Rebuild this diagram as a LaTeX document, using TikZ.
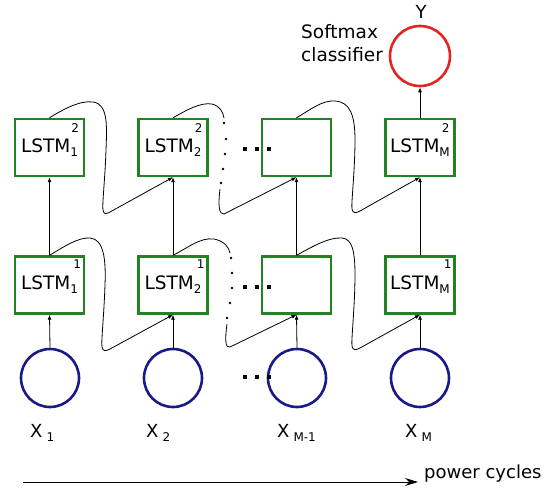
\documentclass[tikz,border=0pt]{standalone}
\usepackage{fontspec}
\setmainfont{DejaVu Sans}
\usetikzlibrary{arrows.meta,calc}
\definecolor{boxgreen}{RGB}{35,130,35}
\definecolor{cblue}{RGB}{25,25,135}
\definecolor{cred}{RGB}{230,35,35}
\newcommand\lsub[1]{\raisebox{-4pt}{\fontsize{12}{13}\selectfont #1}}
\begin{document}
\begin{tikzpicture}[x=1pt,y=-1pt,
  lstm/.style={draw=boxgreen, line width=2.4pt, minimum width=69pt, minimum height=57pt, inner sep=0pt, font=\fontsize{18.5}{21}\selectfont},
  sup/.style={inner sep=0pt, font=\fontsize{12}{13}\selectfont},
  incirc/.style={circle, draw=cblue, line width=2.6pt, minimum size=58pt, inner sep=0pt},
  outcirc/.style={circle, draw=cred, line width=2.6pt, minimum size=60pt, inner sep=0pt},
  flow/.style={line width=0.8pt, -{Latex[length=5pt,width=4pt]}},
  wave/.style={line width=0.8pt},
  lbl/.style={font=\fontsize{18}{21}\selectfont, inner sep=0pt},
  ]
\useasboundingbox (0,0) rectangle (550,493);

% LSTM boxes
\node[lstm] (b1) at (49.5,285) {LSTM\lsub{1}};
\node[lstm] (b2) at (173,285) {LSTM\lsub{2}};
\node[lstm] (b3) at (296.5,285) {};
\node[lstm] (bM) at (420,285) {LSTM\lsub{M}};
\node[lstm] (t1) at (49.5,147.5) {LSTM\lsub{1}};
\node[lstm] (t2) at (173,147.5) {LSTM\lsub{2}};
\node[lstm] (t3) at (296.5,147.5) {};
\node[lstm] (tM) at (420,147.5) {LSTM\lsub{M}};

% superscripts
\node[sup] (sb1) at ($(b1.north east)+(-8,9)$) {1};
\node[sup] (sb2) at ($(b2.north east)+(-8,9)$) {1};
\node[sup] (sbM) at ($(bM.north east)+(-8,9)$) {1};
\node[sup] (st1) at ($(t1.north east)+(-10,10)$) {2};
\node[sup] (st2) at ($(t2.north east)+(-10,10)$) {2};
\node[sup] (stM) at ($(tM.north east)+(-10,10)$) {2};

% input circles
\node[incirc] (x1) at (50,378) {};
\node[incirc] (x2) at (173,378) {};
\node[incirc] (x3) at (297,378) {};
\node[incirc] (xM) at (420,378) {};
\node[outcirc] (y) at (420,56) {};

% labels
\node[lbl, anchor=base west] (lx1) at (30,437) {X\hspace{4pt}\lsub{1}};
\node[lbl, anchor=base west] (lx2) at (146,437) {X\hspace{4pt}\lsub{2}};
\node[lbl, anchor=base west] (lx3) at (277,437) {X\hspace{4pt}\lsub{M-1}};
\node[lbl, anchor=base west] (lxM) at (405,437) {X\hspace{4pt}\lsub{M}};
\node[lbl] (ly) at (421,12) {Y};
\node[lbl, anchor=north west, align=left, font=\fontsize{18.5}{23}\selectfont] (soft) at (301,24) {Softmax\\classifier};
\node[lbl, anchor=base west] (pc) at (424,478) {power cycles};

% vertical arrows
\draw[flow] (x1.north) -- (b1.south);
\draw[flow] (x2.north) -- (b2.south);
\draw[flow] (x3.north) -- (b3.south);
\draw[flow] (xM.north) -- (bM.south);
\draw[flow] (b1.north) -- (t1.south);
\draw[flow] (b2.north) -- (t2.south);
\draw[flow] (b3.north) -- (t3.south);
\draw[flow] (bM.north) -- (tM.south);
\draw[flow] (tM.north) -- (y.south);

% recurrent connectors
\draw[wave, -{Latex[length=5pt,width=4pt]}] (t1.north)
  .. controls (62,110) and (80,100) .. (93,102)
  .. controls (108,104) and (107,125) .. (106,150)
  .. controls (105,180) and (102,205) .. (103,210)
  .. controls (104,215) and (106,214) .. (110,212)
  -- (t2.south);
\draw[wave, -{Latex[length=5pt,width=4pt]}] (b1.north)
  .. controls (62,248) and (78,237) .. (90,238)
  .. controls (104,239) and (106,260) .. (105,285)
  .. controls (104,315) and (101,343) .. (102,347)
  .. controls (103,352) and (106,351) .. (110,349)
  -- (b2.south);
\draw[wave] (t2.north)
  .. controls (185,111) and (200,102) .. (212,104)
  .. controls (220,106) and (223,112) .. (224,118) coordinate (d1);
\draw[wave, -{Latex[length=5pt,width=4pt]}] (220,189) coordinate (d2)
  .. controls (218,205) and (219,215) .. (224,214)
  -- (t3.south);
\draw[wave] (b2.north)
  .. controls (186,249) and (200,237) .. (214,239)
  .. controls (224,241) and (229,247) .. (230,253) coordinate (d3);
\draw[wave, -{Latex[length=5pt,width=4pt]}] (227,324) coordinate (d4)
  .. controls (225,338) and (225,349) .. (230,347)
  -- (b3.south);
\draw[wave, -{Latex[length=5pt,width=4pt]}] (t3.north)
  .. controls (310,110) and (322,100) .. (335,101)
  .. controls (350,102) and (355,115) .. (355,140)
  .. controls (355,170) and (351,205) .. (352,209)
  .. controls (353,214) and (356,213) .. (360,211)
  -- (tM.south);
\draw[wave, -{Latex[length=5pt,width=4pt]}] (b3.north)
  .. controls (310,248) and (328,237) .. (342,238)
  .. controls (352,239) and (355,250) .. (355,275)
  .. controls (355,305) and (351,342) .. (352,346)
  .. controls (353,351) and (356,350) .. (360,348)
  -- (bM.south);

% vertical dots
\foreach \p in {(224,123),(226,139),(225,154),(223,169),(221,183)} \fill \p circle (1.4);
\foreach \p in {(231,258),(232,273),(232,288),(230,303),(227,318)} \fill \p circle (1.4);

% horizontal dots
\foreach \yy in {149,287,377} \foreach \xx in {245,257,269} \fill (\xx-2.2,\yy-2.2) rectangle (\xx+2.2,\yy+2.2);

% bottom axis arrow
\coordinate (axs) at (23,482);
\coordinate (axe) at (418,482);
\draw[line width=1pt, -{Stealth[length=13pt,width=8pt]}] (axs) -- (axe);
\end{tikzpicture}
\end{document}
